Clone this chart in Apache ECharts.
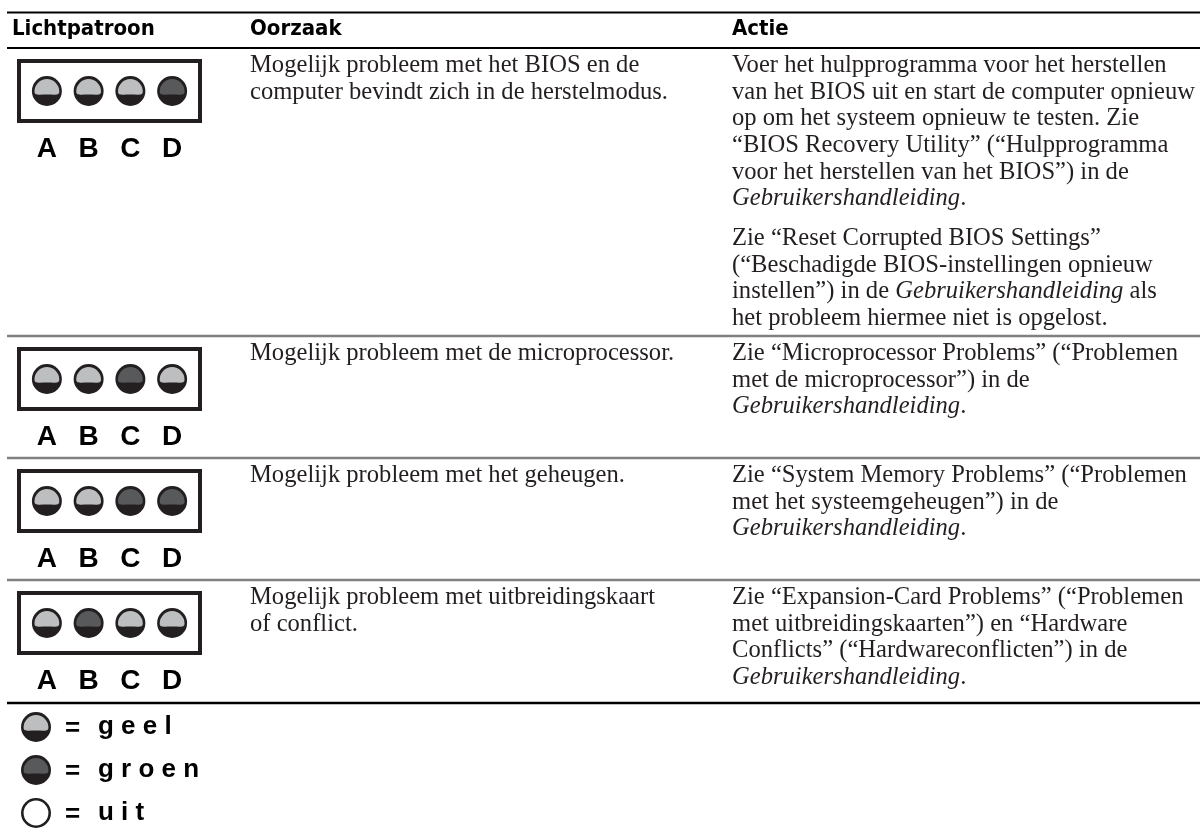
<!DOCTYPE html>
<html>
<head>
<meta charset="utf-8">
<script src="https://cdn.jsdelivr.net/npm/echarts@6/dist/echarts.min.js"></script>
<style>
  html, body { margin: 0; padding: 0; background: #fff; }
  #chart { width: 1200px; height: 834px; }
</style>
</head>
<body>
<div id="chart"></div>
<script>
// ---------------- data ----------------
const headers = ['Lichtpatroon', 'Oorzaak', 'Actie'];
const lightLabels = ['A', 'B', 'C', 'D'];
const lightStates = ['geel', 'groen', 'uit'];
const patternRow1 = ['geel', 'geel', 'geel', 'groen'];
const patternRow2 = ['geel', 'geel', 'groen', 'geel'];
const patternRow3 = ['geel', 'geel', 'groen', 'groen'];
const patternRow4 = ['geel', 'groen', 'geel', 'geel'];
const patterns = [patternRow1, patternRow2, patternRow3, patternRow4];

const causes = [
  ['Mogelijk probleem met het BIOS en de', 'computer bevindt zich in de herstelmodus.'],
  ['Mogelijk probleem met de microprocessor.'],
  ['Mogelijk probleem met het geheugen.'],
  ['Mogelijk probleem met uitbreidingskaart', 'of conflict.']
];
const actions = [
  [
    ['Voer het hulpprogramma voor het herstellen', 'van het BIOS uit en start de computer opnieuw', 'op om het systeem opnieuw te testen. Zie', '“BIOS Recovery Utility” (“Hulpprogramma', 'voor het herstellen van het BIOS”) in de', '*Gebruikershandleiding*.'],
    ['Zie “Reset Corrupted BIOS Settings”', '(“Beschadigde BIOS-instellingen opnieuw', 'instellen”) in de *Gebruikershandleiding* als', 'het probleem hiermee niet is opgelost.']
  ],
  [
    ['Zie “Microprocessor Problems” (“Problemen', 'met de microprocessor”) in de', '*Gebruikershandleiding*.']
  ],
  [
    ['Zie “System Memory Problems” (“Problemen', 'met het systeemgeheugen”) in de', '*Gebruikershandleiding*.']
  ],
  [
    ['Zie “Expansion-Card Problems” (“Problemen', 'met uitbreidingskaarten”) en “Hardware', 'Conflicts” (“Hardwareconflicten”) in de', '*Gebruikershandleiding*.']
  ]
];
const legendKeys = ['geel', 'groen', 'uit'];

// ---------------- layout / style ----------------
const L = {
  rowLines: [48, 336, 458, 580],
  topRule: 12.5,
  bottomRule: 703,
  ruleLeft: 7,
  colX: [12, 250, 732],
  headerY: 29,
  lineH: 26.7,
  textOffset: 4,
  paraGap: 13,
  boxOffset: 11
};
const INK = '#231f20';
const SERIF = '"Liberation Serif", "DejaVu Serif", serif';
const SANS = '"Liberation Sans", Arial, sans-serif';
const COND = '"DejaVu Sans Condensed", "Liberation Sans Narrow", sans-serif';
const FILL = { geel: '#bcbec0', groen: '#58595b' };
const BODY_SIZE = 24.6;

const chart = echarts.init(document.getElementById('chart'), null, { renderer: 'canvas' });

function lightShape(cx, cy, state, r) {
  if (state === 'uit') {
    return [{
      type: 'circle', shape: { cx: cx, cy: cy, r: r - 1.3 },
      style: { fill: '#fff', stroke: INK, lineWidth: 2.6 }
    }];
  }
  const ri = r - 2.6;
  const d = 'M' + (cx - ri) + ' ' + (cy + 0.5) +
    ' A' + ri + ' ' + ri + ' 0 0 1 ' + (cx + ri) + ' ' + (cy + 0.5) +
    ' C' + (cx + ri) + ' ' + (cy + 5) + ' ' + (cx + ri * 0.55) + ' ' + (cy + 3.5) + ' ' + cx + ' ' + (cy + 3.5) +
    ' C' + (cx - ri * 0.55) + ' ' + (cy + 3.5) + ' ' + (cx - ri) + ' ' + (cy + 5) + ' ' + (cx - ri) + ' ' + (cy + 0.5) + ' Z';
  return [
    { type: 'circle', shape: { cx: cx, cy: cy, r: r }, style: { fill: INK } },
    { type: 'path', shape: { pathData: d }, style: { fill: FILL[state] } }
  ];
}

const grids = [], xAxes = [], yAxes = [], series = [];
patterns.forEach(function (pat, i) {
  const boxTop = L.rowLines[i] + L.boxOffset;
  grids.push({ left: 26, width: 167, top: boxTop + 2, height: 60, containLabel: false, outerBoundsMode: 'none' });
  xAxes.push({
    gridIndex: i, type: 'category', data: lightLabels,
    axisLine: { show: false }, axisTick: { show: false }, splitLine: { show: false },
    axisLabel: { margin: 14, color: '#000', fontFamily: SANS, fontWeight: 'bold', fontSize: 28 }
  });
  yAxes.push({ gridIndex: i, type: 'value', min: 0, max: 1, show: false });
  series.push({
    type: 'custom', xAxisIndex: i, yAxisIndex: i, silent: true, z: 1,
    data: [[0, 0]],
    renderItem: function (params) {
      const cs = params.coordSys;
      return { type: 'rect', shape: { x: cs.x - 7, y: cs.y, width: cs.width + 14, height: cs.height },
        style: { fill: '#fff', stroke: INK, lineWidth: 4 } };
    }
  });
  series.push({
    type: 'custom', xAxisIndex: i, yAxisIndex: i, silent: true, z: 2,
    data: pat.map(function (s, j) { return [j, 0.5, lightStates.indexOf(s)]; }),
    renderItem: function (params, api) {
      const p = api.coord([api.value(0), api.value(1)]);
      return { type: 'group', children: lightShape(p[0], p[1], lightStates[api.value(2)], 15) };
    }
  });
});

// legend grid
const LG = patterns.length;
grids.push({ left: 21, width: 30, top: 705.5, height: 129, containLabel: false, outerBoundsMode: 'none' });
xAxes.push({ gridIndex: LG, type: 'value', min: 0, max: 1, show: false });
yAxes.push({ gridIndex: LG, type: 'category', data: legendKeys, inverse: true, show: false });
series.push({
  type: 'custom', xAxisIndex: LG, yAxisIndex: LG, silent: true, z: 2,
  data: legendKeys.map(function (k, i) { return [0.5, i]; }),
  renderItem: function (params, api) {
    const p = api.coord([api.value(0), api.value(1)]);
    const key = legendKeys[params.dataIndex];
    const kids = lightShape(p[0], p[1], key, 15);
    kids.push({ type: 'text', style: { text: '=', x: p[0] + 29, y: p[1] + 2, align: 'left', verticalAlign: 'middle',
      font: 'bold 26px ' + SANS, fill: '#000' } });
    kids.push({ type: 'text', style: { text: key.split('').join(' '), x: p[0] + 62, y: p[1], align: 'left', verticalAlign: 'middle',
      font: 'bold 26px ' + SANS, fill: '#000' } });
    return { type: 'group', children: kids };
  }
});

// ---------------- text & rules ----------------
function richLines(lines) {
  return lines.map(function (l) {
    return l.split('*').map(function (seg, k) {
      if (!seg) return '';
      return (k % 2 === 1 ? '{i|' : '{n|') + seg + '}';
    }).join('');
  }).join('\n');
}
const richStyle = {
  n: { fontFamily: SERIF, fontSize: BODY_SIZE, lineHeight: L.lineH, fill: INK },
  i: { fontFamily: SERIF, fontSize: BODY_SIZE, fontStyle: 'italic', lineHeight: L.lineH, fill: INK }
};
function textBlock(x, y, lines) {
  return {
    type: 'text', x: x, y: y, z: 10, silent: true,
    style: { text: richLines(lines), x: 0, y: 0, align: 'left', verticalAlign: 'top',
      fontFamily: SERIF, fontSize: BODY_SIZE, lineHeight: L.lineH, fill: INK, rich: richStyle }
  };
}
function rule(y, color, w) {
  return { type: 'line', z: 5, silent: true, shape: { x1: L.ruleLeft, y1: y, x2: 1200, y2: y },
    style: { stroke: color, lineWidth: w } };
}

const graphics = [];
graphics.push(rule(L.topRule, '#000', 2.2));
graphics.push(rule(L.rowLines[0], '#000', 2.2));
L.rowLines.slice(1).forEach(function (y) { graphics.push(rule(y, '#808080', 2.4)); });
graphics.push(rule(L.bottomRule, '#000', 2.4));
headers.forEach(function (h, k) {
  graphics.push({ type: 'text', x: L.colX[k], y: L.headerY, z: 10, silent: true,
    style: { text: h, x: 0, y: 0, align: 'left', verticalAlign: 'middle', font: 'bold 22px ' + COND, fill: '#000' } });
});
causes.forEach(function (lines, i) {
  graphics.push(textBlock(L.colX[1], L.rowLines[i] + L.textOffset, lines));
});
actions.forEach(function (paras, i) {
  let y = L.rowLines[i] + L.textOffset;
  paras.forEach(function (lines) {
    graphics.push(textBlock(L.colX[2], y, lines));
    y += lines.length * L.lineH + L.paraGap;
  });
});

chart.setOption({
  backgroundColor: '#fff',
  animation: false,
  grid: grids,
  xAxis: xAxes,
  yAxis: yAxes,
  series: series,
  graphic: { elements: graphics }
});
</script>
</body>
</html>
